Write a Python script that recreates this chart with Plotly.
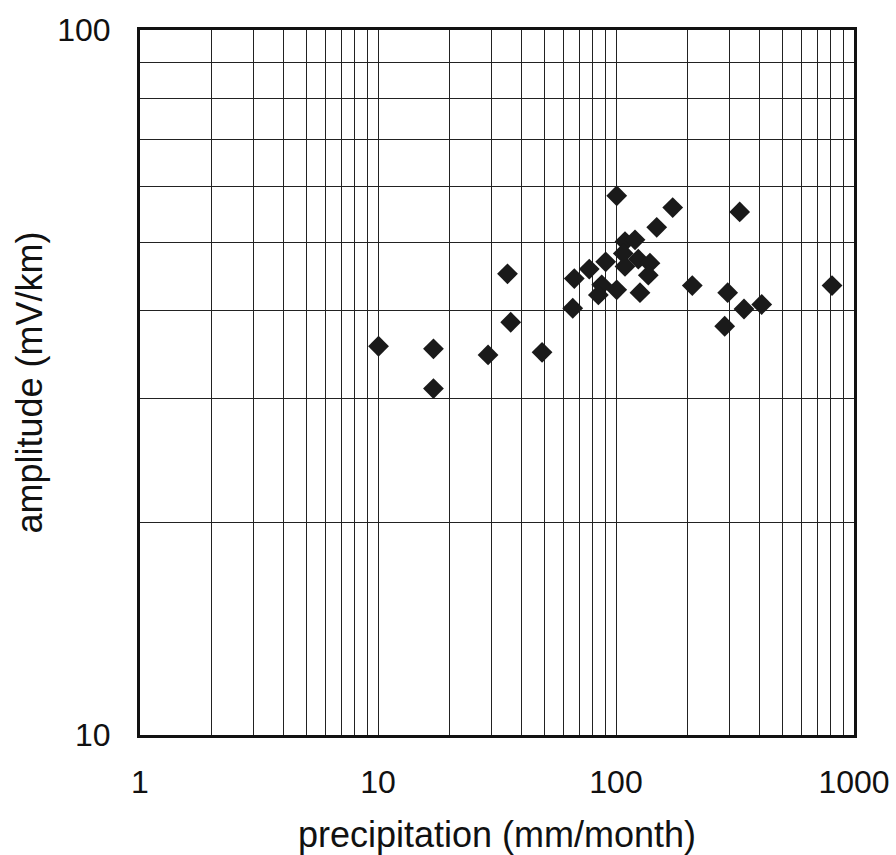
import plotly.graph_objects as go

precipitation = [10.05, 17.1, 17.1, 29.0, 35.0, 36.1, 48.9, 66.8, 65.8, 77.2,
                 90.5, 87.1, 84.3, 100.7, 100.7, 109.1, 120.2, 107.3, 109.1, 124.1,
                 138.9, 136.7, 126.1, 148.3, 173.1, 209.2, 294.6, 286.2, 330.9, 345.0,
                 409.5, 808.5]
amplitude = [35.6, 35.3, 31.0, 34.6, 45.1, 38.5, 34.9, 44.4, 40.3, 45.8,
             46.9, 43.5, 42.1, 42.8, 58.2, 50.1, 50.4, 48.2, 46.2, 47.3,
             46.7, 44.9, 42.4, 52.5, 56.0, 43.4, 42.4, 38.0, 55.2, 40.2,
             40.8, 43.4]

x_grid = [m * d for d in (1, 10, 100) for m in range(1, 10)] + [1000]
x_labels = {1: "1", 10: "10", 100: "100", 1000: "1000"}
y_grid = [10, 20, 30, 40, 50, 60, 70, 80, 90, 100]
y_labels = {10: "10", 100: "100"}

fig = go.Figure(go.Scatter(
    x=precipitation, y=amplitude, mode="markers",
    marker=dict(symbol="diamond", size=16, color="#1a1a1a", line=dict(width=0)),
    showlegend=False,
))

font_family = "Liberation Sans, Arial, sans-serif"

fig.update_layout(
    width=896, height=855,
    margin=dict(l=140, r=42, t=30, b=120),
    paper_bgcolor="white", plot_bgcolor="white",
    font=dict(family=font_family, color="#111"),
)

fig.update_xaxes(
    type="log", range=[0, 3],
    tickmode="array", tickvals=x_grid,
    ticktext=[x_labels.get(v, "") for v in x_grid],
    tickfont=dict(size=32), ticks="", ticklabelstandoff=17,
    showgrid=True, gridcolor="#222", gridwidth=1.3,
    showline=True, linecolor="#111", linewidth=3, mirror=True,
    zeroline=False,
    title=dict(text="precipitation (mm/month)", font=dict(size=36), standoff=27),
    automargin=False,
)
fig.update_yaxes(
    type="log", range=[1, 2],
    tickmode="array", tickvals=y_grid,
    ticktext=[y_labels.get(v, "") for v in y_grid],
    tickfont=dict(size=32), ticks="", ticklabelstandoff=20,
    showgrid=True, gridcolor="#222", gridwidth=1.3,
    showline=True, linecolor="#111", linewidth=3, mirror=True,
    zeroline=False,
    title=dict(text="amplitude (mV/km)", font=dict(size=36), standoff=4),
    automargin=False,
)

fig.write_html("out.html")
